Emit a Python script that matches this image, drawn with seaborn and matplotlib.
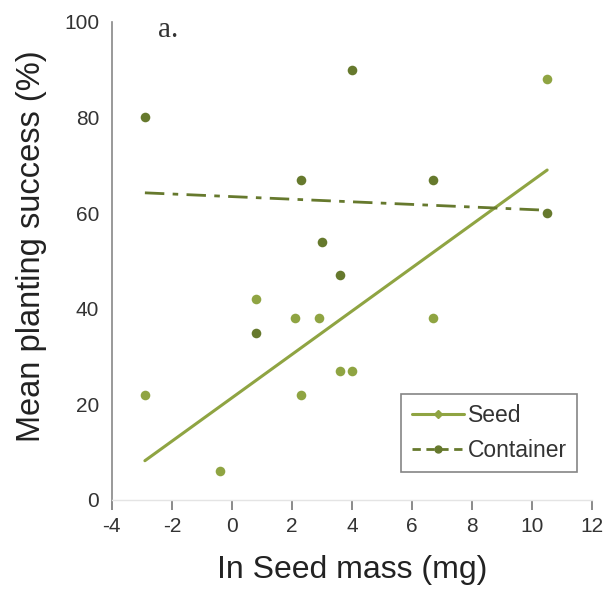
import numpy as np
import pandas as pd
import matplotlib
matplotlib.use("Agg")
import matplotlib.pyplot as plt
import seaborn as sns
from matplotlib.lines import Line2D

# ln seed mass (mg) and mean planting success (%)
seed_x = [-2.9, -0.4, 0.8, 2.1, 2.3, 2.9, 3.6, 4.0, 6.7, 10.5]
seed_y = [22, 6, 42, 38, 22, 38, 27, 27, 38, 88]

container_x = [-2.9, 0.8, 2.3, 3.0, 3.6, 4.0, 6.7, 10.5]
container_y = [80, 35, 67, 54, 47, 90, 67, 60]

seed_color = "#8fa442"
container_color = "#66792d"

sns.set_style("white")
plt.rcParams["font.family"] = ["Liberation Sans", "DejaVu Sans"]
plt.rcParams["axes.unicode_minus"] = False

df_seed = pd.DataFrame({"x": seed_x, "y": seed_y})
df_cont = pd.DataFrame({"x": container_x, "y": container_y})

fig = plt.figure(figsize=(6.08, 5.91), dpi=100)
ax = fig.add_axes([0.184, 0.154, 0.79, 0.809])

sns.regplot(data=df_seed, x="x", y="y", ax=ax, ci=None, truncate=True,
            color=seed_color,
            scatter_kws={"s": 48, "linewidths": 0, "alpha": 1},
            line_kws={"lw": 2.2})
sns.regplot(data=df_cont, x="x", y="y", ax=ax, ci=None, truncate=True,
            color=container_color,
            scatter_kws={"s": 48, "linewidths": 0, "alpha": 1},
            line_kws={"lw": 2.0, "dashes": (7, 3, 2, 3)})

ax.set_xlim(-4, 12)
ax.set_ylim(0, 100)
ax.set_xticks(range(-4, 13, 2))
ax.set_yticks(range(0, 101, 20))

for s in ["top", "right"]:
    ax.spines[s].set_visible(False)
ax.spines["left"].set_color("#888888")
ax.spines["left"].set_linewidth(1.2)
ax.spines["bottom"].set_color("#e4e4e4")
ax.spines["bottom"].set_linewidth(1.0)

ax.tick_params(axis="x", direction="out", length=7, width=1.2, color="#777777",
               labelsize=15, labelcolor="#333333", pad=5)
ax.tick_params(axis="y", length=0, labelsize=15, labelcolor="#333333", pad=9)
ax.tick_params(axis="x", bottom=True)

ax.set_xlabel("In Seed mass (mg)", fontsize=23, color="#222222", labelpad=14)
ax.set_ylabel("Mean planting success (%)", fontsize=23.5, color="#222222")
ax.yaxis.set_label_coords(-0.135, 0.53)

ax.text(0.095, 1.01, "a.", transform=ax.transAxes, fontsize=21,
        family="Liberation Serif", color="#333333", va="top")

handles = [
    Line2D([0], [0], color=seed_color, lw=2.2, marker="D", markersize=4),
    Line2D([0], [0], color=container_color, lw=2.0, marker="o", markersize=5,
           dashes=(3, 2)),
]
leg = ax.legend(handles, ["Seed", "Container"], loc="lower right",
                bbox_to_anchor=(0.969, 0.058), fontsize=16.5, frameon=True,
                fancybox=False, handlelength=2.3, handletextpad=0.15,
                labelspacing=0.5, borderpad=0.45, borderaxespad=0)
leg.get_frame().set_edgecolor("#666666")
leg.get_frame().set_linewidth(1.2)
for t in leg.get_texts():
    t.set_color("#333333")

fig.savefig("out.png", dpi=100)
